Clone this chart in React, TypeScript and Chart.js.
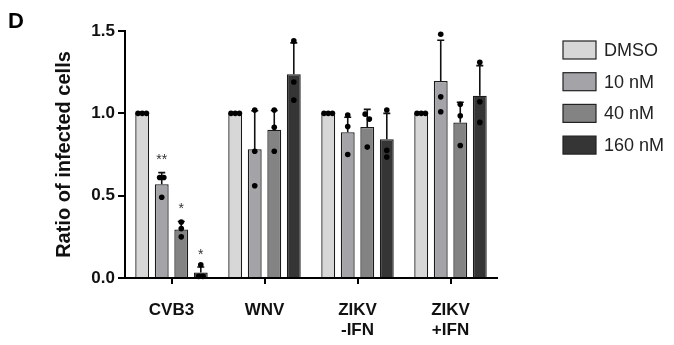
import React, { useEffect, useRef } from "react";
import { Chart, registerables } from "chart.js";

Chart.register(...registerables);

// ---------- data ----------
const categories: string[][] = [["CVB3"], ["WNV"], ["ZIKV", "-IFN"], ["ZIKV", "+IFN"]];
const seriesLabels = ["DMSO", "10 nM", "40 nM", "160 nM"];
const seriesColors = ["#d7d7d7", "#a4a4a8", "#838383", "#353535"];

const dmsoMean = [1.0, 1.0, 1.0, 1.0];
const nm10Mean = [0.57, 0.782, 0.885, 1.196];
const nm40Mean = [0.295, 0.9, 0.917, 0.945];
const nm160Mean = [0.033, 1.238, 0.843, 1.107];

const dmsoSd = [0, 0, 0, 0];
const nm10Sd = [0.07, 0.234, 0.091, 0.248];
const nm40Sd = [0.048, 0.117, 0.107, 0.122];
const nm160Sd = [0.034, 0.19, 0.157, 0.183];

const dmsoPts = [[1, 1, 1], [1, 1, 1], [1, 1, 1], [1, 1, 1]];
const nm10Pts = [[0.61, 0.61, 0.49], [1.02, 0.77, 0.56], [0.99, 0.92, 0.75], [1.48, 1.1, 1.01]];
const nm40Pts = [[0.34, 0.3, 0.25], [1.02, 0.915, 0.77], [0.995, 0.965, 0.795], [1.055, 0.985, 0.805]];
const nm160Pts = [[0.08, 0.01, 0.01], [1.44, 1.19, 1.08], [1.02, 0.775, 0.735], [1.31, 1.07, 0.945]];

const dmsoSig = ["", "", "", ""];
const nm10Sig = ["**", "", "", ""];
const nm40Sig = ["*", "", "", ""];
const nm160Sig = ["*", "", "", ""];

const yTicks = [0, 0.5, 1.0, 1.5];
const yTitle = "Ratio of infected cells";
const panelLetter = "D";

const means = [dmsoMean, nm10Mean, nm40Mean, nm160Mean];
const sds = [dmsoSd, nm10Sd, nm40Sd, nm160Sd];
const pts = [dmsoPts, nm10Pts, nm40Pts, nm160Pts];
const sigs = [dmsoSig, nm10Sig, nm40Sig, nm160Sig];

const FONT = "'Liberation Sans', Arial, Helvetica, sans-serif";

const extrasPlugin = {
  id: "extras",
  afterDatasetsDraw(chart: any) {
    const ctx = chart.ctx;
    const y = chart.scales.y;
    ctx.save();
    for (let i = 0; i < means.length; i++) {
      const meta = chart.getDatasetMeta(i);
      for (let j = 0; j < means[i].length; j++) {
        const bar = meta.data[j];
        if (!bar) continue;
        const x = bar.x;
        const m = means[i][j];
        const sd = sds[i][j];
        const yTop = y.getPixelForValue(m);
        const yErr = y.getPixelForValue(m + sd);
        if (sd > 0) {
          ctx.strokeStyle = "#111";
          ctx.lineWidth = 1.6;
          ctx.beginPath();
          ctx.moveTo(x, yTop);
          ctx.lineTo(x, yErr);
          ctx.moveTo(x - 3.5, yErr);
          ctx.lineTo(x + 3.5, yErr);
          ctx.stroke();
        }
        // points, spread horizontally when overlapping
        const py = pts[i][j].map((v) => y.getPixelForValue(v)).sort((a, b) => a - b);
        const groups: number[][] = [];
        py.forEach((p) => {
          const g = groups[groups.length - 1];
          if (g && Math.abs(p - g[0]) < 5) g.push(p);
          else groups.push([p]);
        });
        ctx.fillStyle = "#000";
        groups.forEach((g) => {
          g.forEach((p, k) => {
            const off = (k - (g.length - 1) / 2) * 4.2;
            ctx.beginPath();
            ctx.arc(x + off, p, 2.8, 0, Math.PI * 2);
            ctx.fill();
          });
        });
        const s = sigs[i][j];
        if (s) {
          ctx.fillStyle = "#333";
          ctx.font = `14px ${FONT}`;
          ctx.textAlign = "center";
          ctx.textBaseline = "middle";
          ctx.fillText(s, x, yErr - 12);
        }
      }
    }
    ctx.restore();
  },
  afterDraw(chart: any) {
    const ctx = chart.ctx;
    ctx.save();
    // panel letter
    ctx.fillStyle = "#000";
    ctx.font = `bold 22px ${FONT}`;
    ctx.textAlign = "left";
    ctx.textBaseline = "alphabetic";
    ctx.fillText(panelLetter, 8, 28);
    // legend
    const bx = 563;
    const bw = 33;
    const bh = 18;
    const y0 = 50;
    const dy = 31.7;
    for (let i = 0; i < seriesLabels.length; i++) {
      const cy = y0 + i * dy;
      ctx.fillStyle = seriesColors[i];
      ctx.fillRect(bx, cy - bh / 2, bw, bh);
      ctx.strokeStyle = "#222";
      ctx.lineWidth = 1.2;
      ctx.strokeRect(bx, cy - bh / 2, bw, bh);
      ctx.fillStyle = "#222";
      ctx.font = `18px ${FONT}`;
      ctx.textBaseline = "middle";
      ctx.fillText(seriesLabels[i], 604, cy + 1);
    }
    ctx.restore();
  },
};

export default function App() {
  const ref = useRef<HTMLCanvasElement | null>(null);

  useEffect(() => {
    if (!ref.current) return;
    const chart = new Chart(ref.current, {
      type: "bar",
      data: {
        labels: categories,
        datasets: seriesLabels.map((lab, i) => ({
          label: lab,
          data: means[i],
          backgroundColor: seriesColors[i],
          borderColor: "#1a1a1a",
          borderWidth: 1.3,
          categoryPercentage: 0.84,
          barPercentage: 0.71,
        })),
      },
      options: {
        responsive: false,
        animation: false,
        layout: { padding: { left: 0, right: 177, top: 31, bottom: 0 } },
        plugins: {
          legend: { display: false },
          tooltip: { enabled: false },
        },
        scales: {
          x: {
            grid: {
              display: true,
              drawOnChartArea: false,
              drawTicks: true,
              tickLength: 6,
              offset: false,
              color: "#000",
              lineWidth: 2,
            },
            border: { display: true, color: "#000", width: 2 },
            ticks: {
              color: "#111",
              font: { family: FONT, size: 17, weight: "bold", lineHeight: 1.15 },
              padding: 17,
              maxRotation: 0,
              autoSkip: false,
            },
            afterFit: (s: any) => {
              s.height = 67;
            },
          },
          y: {
            min: 0,
            max: 1.5,
            afterBuildTicks: (s: any) => {
              s.ticks = yTicks.map((v) => ({ value: v }));
            },
            grid: {
              display: true,
              drawOnChartArea: false,
              drawTicks: true,
              tickLength: 7,
              color: "#000",
              lineWidth: 2,
            },
            border: { display: true, color: "#000", width: 2 },
            ticks: {
              color: "#111",
              font: { family: FONT, size: 17, weight: "bold" },
              padding: 3,
              callback: (v: any) => Number(v).toFixed(1),
            },
            title: {
              display: true,
              text: yTitle,
              color: "#111",
              font: { family: FONT, size: 20, weight: "bold" },
              padding: { top: 52, bottom: 0 },
            },
            afterFit: (s: any) => {
              s.width = 125;
            },
          },
        },
      },
      plugins: [extrasPlugin],
    });
    return () => chart.destroy();
  }, []);

  return (
    <div style={{ position: "fixed", left: 0, top: 0, width: 674, height: 345, background: "#fff" }}>
      <canvas ref={ref} width={674} height={345} style={{ width: 674, height: 345, display: "block" }} />
    </div>
  );
}
